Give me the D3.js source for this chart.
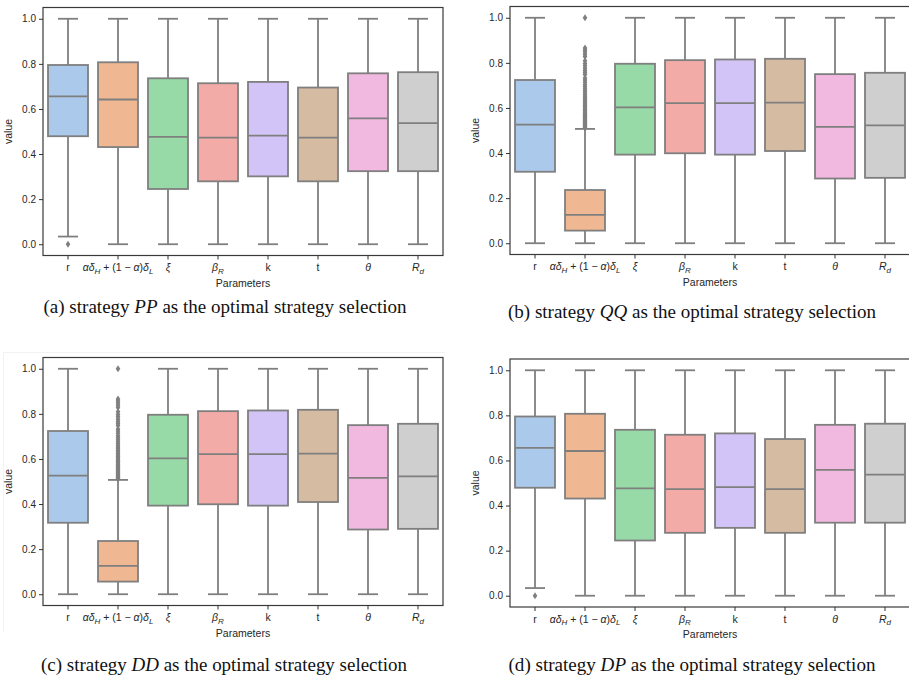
<!DOCTYPE html>
<html>
<head>
	<title>Parameter box plots</title>
	<script src="https://d3js.org/d3.v7.min.js"></script>
	<style>
		body { margin: 0; background: #fff; }
		.tick text { font-family: "Liberation Sans", Arial, sans-serif; font-size: 10px; fill: #262626; }
		.tick line { stroke: #333; }
		.lab { font-family: "Liberation Sans", Arial, sans-serif; font-size: 10.5px; fill: #262626; }
		.cap { font-family: "Liberation Serif", "Times New Roman", serif; font-size: 18px; fill: #111; }
	</style>
</head>
<body>
	<div id="plot"></div>
	<script type="text/javascript">
		// tick labels of the x axis, as [text, style] pieces (i = italic, s = subscript)
		const paramLabels = [
			[["r"]],
			[["αδ", "i"], ["H", "s"], [" + (1 − "], ["α", "i"], [")"], ["δ", "i"], ["L", "s"]],
			[["ξ", "i"]],
			[["β", "i"], ["R", "s"]],
			[["k"]],
			[["t"]],
			[["θ", "i"]],
			[["R", "i"], ["d", "s"]]
		];
		const yTicks = [0, 0.2, 0.4, 0.6, 0.8, 1.0];
		const colors = ["#abc9ea", "#efb792", "#98daa7", "#f3aba8", "#d3c4f7", "#d6bba3", "#f1b9e0", "#cfcfcf"];

		// strategy PP (also DP)
		const ppLow = [0.034, 0, 0, 0, 0, 0, 0, 0];
		const ppQ1 = [0.479, 0.431, 0.245, 0.279, 0.301, 0.279, 0.324, 0.324];
		const ppMed = [0.656, 0.642, 0.476, 0.473, 0.482, 0.473, 0.558, 0.537];
		const ppQ3 = [0.795, 0.807, 0.736, 0.714, 0.720, 0.695, 0.758, 0.763];
		const ppHigh = [1, 1, 1, 1, 1, 1, 1, 1];
		const ppOut = [[0.0], [], [], [], [], [], [], []];

		// strategy QQ (also DD)
		const qqLow = [0, 0, 0, 0, 0, 0, 0, 0];
		const qqQ1 = [0.317, 0.056, 0.393, 0.399, 0.393, 0.409, 0.287, 0.290];
		const qqMed = [0.526, 0.126, 0.603, 0.621, 0.621, 0.624, 0.516, 0.523];
		const qqQ3 = [0.724, 0.236, 0.796, 0.812, 0.815, 0.818, 0.750, 0.756];
		const qqHigh = [1, 0.507, 1, 1, 1, 1, 1, 1];
		const qqOut = [[], [0.511, 0.515, 0.518, 0.522, 0.527, 0.531, 0.535, 0.539, 0.544, 0.548, 0.553, 0.557,
			0.562, 0.567, 0.572, 0.577, 0.582, 0.588, 0.593, 0.599, 0.605, 0.611, 0.617, 0.624, 0.631, 0.638,
			0.645, 0.652, 0.66, 0.668, 0.676, 0.685, 0.694, 0.703, 0.714, 0.724, 0.733, 0.748, 0.757, 0.766,
			0.776, 0.787, 0.797, 0.809, 0.828, 0.838, 0.848, 0.857, 0.866, 1.0], [], [], [], [], [], []];

		const w = 909, h = 682, pw = 400, ph = 248;
		const lineCol = "#7f7f7f";

		const panels = [
			{ x: 43, y: 7.5, low: ppLow, q1: ppQ1, med: ppMed, q3: ppQ3, high: ppHigh, out: ppOut,
				tag: "(a) strategy ", s: "PP", cx: 225, cy: 313, cw: 363 },
			{ x: 510, y: 6.5, low: qqLow, q1: qqQ1, med: qqMed, q3: qqQ3, high: qqHigh, out: qqOut,
				tag: "(b) strategy ", s: "QQ", cx: 692, cy: 318, cw: 368 },
			{ x: 43, y: 357.5, low: qqLow, q1: qqQ1, med: qqMed, q3: qqQ3, high: qqHigh, out: qqOut,
				tag: "(c) strategy ", s: "DD", cx: 224, cy: 671, cw: 366 },
			{ x: 510, y: 359, low: ppLow, q1: ppQ1, med: ppMed, q3: ppQ3, high: ppHigh, out: ppOut,
				tag: "(d) strategy ", s: "DP", cx: 692, cy: 671, cw: 367 }
		];

		var svg = d3.select("#plot").append("svg")
			.attr("width", w).attr("height", h);
		svg.append("rect").attr("width", w).attr("height", h).attr("fill", "#fff");

		// faint screenshot border around panel (c)
		svg.append("path").attr("d", "M3.5,632V352.5H445")
			.attr("fill", "none").attr("stroke", "#f2f2f2");

		var x = d3.scaleBand().domain(d3.range(8)).range([0, pw]).paddingInner(0.2).paddingOuter(0.1);
		var y = d3.scaleLinear().domain([-0.05, 1.05]).range([ph, 0]);
		var bw = x.bandwidth();

		panels.forEach(function(p) {
			var g = svg.append("g").attr("transform", "translate(" + p.x + "," + p.y + ")");
			var d = d3.range(8);

			var box = g.selectAll("g.box").data(d).enter().append("g")
				.attr("transform", function(i) { return "translate(" + (x(i) + bw / 2) + ",0)"; });

			// whiskers
			box.append("line").attr("y1", function(i) { return y(p.low[i]); }).attr("y2", function(i) { return y(p.q1[i]); })
				.attr("stroke", lineCol).attr("stroke-width", 1.8);
			box.append("line").attr("y1", function(i) { return y(p.q3[i]); }).attr("y2", function(i) { return y(p.high[i]); })
				.attr("stroke", lineCol).attr("stroke-width", 1.8);
			// caps
			[p.low, p.high].forEach(function(arr) {
				box.append("line").attr("x1", -bw / 4).attr("x2", bw / 4)
					.attr("y1", function(i) { return y(arr[i]); }).attr("y2", function(i) { return y(arr[i]); })
					.attr("stroke", lineCol).attr("stroke-width", 1.8);
			});
			// boxes
			box.append("rect").attr("x", -bw / 2).attr("width", bw)
				.attr("y", function(i) { return y(p.q3[i]); })
				.attr("height", function(i) { return y(p.q1[i]) - y(p.q3[i]); })
				.attr("fill", function(i) { return colors[i]; })
				.attr("stroke", lineCol).attr("stroke-width", 1.8);
			box.append("line").attr("x1", -bw / 2).attr("x2", bw / 2)
				.attr("y1", function(i) { return y(p.med[i]); }).attr("y2", function(i) { return y(p.med[i]); })
				.attr("stroke", lineCol).attr("stroke-width", 1.8);
			// fliers (thin diamonds)
			box.selectAll("path.flier").data(function(i) { return p.out[i]; }).enter().append("path")
				.attr("d", function(v) { var c = y(v); return "M0," + (c - 3.5) + "L2.3," + c + "L0," + (c + 3.5) + "L-2.3," + c + "Z"; })
				.attr("fill", lineCol);

			// frame
			g.append("rect").attr("width", pw).attr("height", ph)
				.attr("fill", "none").attr("stroke", "#3a3a3a").attr("stroke-width", 1.2);

			// y axis
			var ya = g.append("g").call(d3.axisLeft(y).tickValues(yTicks).tickFormat(d3.format(".1f")).tickSize(4).tickPadding(3));
			ya.select(".domain").remove();

			// x axis
			var xa = g.append("g").attr("transform", "translate(0," + ph + ")")
				.call(d3.axisBottom(x).tickSize(4).tickPadding(3).tickFormat(""));
			xa.select(".domain").remove();
			xa.selectAll(".tick text").each(function(i) {
				var t = d3.select(this).attr("dy", "0.85em").style("font-size", "10.5px");
				paramLabels[i].forEach(function(seg, k) {
					var sp = t.append("tspan").text(seg[0]);
					if (seg[1] === "i") sp.attr("font-style", "italic");
					if (seg[1] === "s") {
						sp.attr("font-style", "italic").attr("font-size", "8px").attr("dy", "2.5");
					} else if (k > 0 && paramLabels[i][k - 1][1] === "s") {
						sp.attr("dy", "-2.5");
					}
				});
			});

			g.append("text").attr("class", "lab").attr("text-anchor", "middle")
				.attr("x", pw / 2).attr("y", ph + 31).text("Parameters");
			g.append("text").attr("class", "lab").attr("text-anchor", "middle")
				.attr("transform", "translate(-31," + (ph / 2) + ") rotate(-90)").text("value");

			// caption
			var cap = svg.append("text").attr("class", "cap")
				.attr("x", p.cx - p.cw / 2).attr("y", p.cy)
				.attr("textLength", p.cw).attr("lengthAdjust", "spacingAndGlyphs");
			cap.append("tspan").text(p.tag);
			cap.append("tspan").attr("font-style", "italic").text(p.s);
			cap.append("tspan").text(" as the optimal strategy selection");
		});
	</script>
</body>
</html>
